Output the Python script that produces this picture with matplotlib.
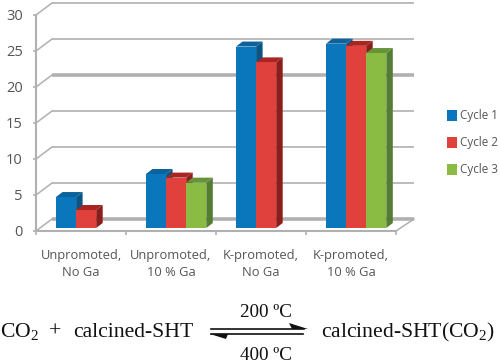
import numpy as np
import matplotlib
matplotlib.use("Agg")
import matplotlib.pyplot as plt
from matplotlib.patches import Polygon, Patch

plt.rcParams['font.family'] = ['Open Sans', 'DejaVu Sans']
plt.rcParams['mathtext.fontset'] = 'custom'
plt.rcParams['mathtext.rm'] = 'Liberation Serif'

categories = ['Unpromoted,\nNo Ga', 'Unpromoted,\n10 % Ga', 'K-promoted,\nNo Ga', 'K-promoted,\n10 % Ga']
cycle_names = ['Cycle 1', 'Cycle 2', 'Cycle 3']
cycle_1 = [4.3, 7.5, 25.2, 25.6]
cycle_2 = [2.5, 7.0, 23.0, 25.3]
cycle_3 = [np.nan, 6.3, np.nan, 24.3]
y_ticks = [0, 5, 10, 15, 20, 25, 30]

front_colors = ['#0A77BD', '#E0413D', '#8ABB42']
side_colors = ['#0A5585', '#8C1D1B', '#537D32']
top_colors = ['#0B629C', '#A82522', '#679438']
grid_color = '#B0B0B0'
text_color = '#555555'

W, H = 500, 364
fig = plt.figure(figsize=(W / 100, H / 100), dpi=100)

# front plane of the fake 3D chart, in pixels
left, right, y0, y30 = 36, 396, 231, 15
ax = fig.add_axes([left / W, 1 - y0 / H, (right - left) / W, (y0 - y30) / H])
ax.set_xlim(0, 4)
ax.set_ylim(0, 30)
px_x = 4 / (right - left)
px_y = 30 / (y0 - y30)

# back wall and floor
wall_dx, wall_dy = 16 * px_x, 12 * px_y
for v in y_ticks:
    lw = 2.6 if v in (0, 20) else 1.2
    ax.plot([0, wall_dx], [v, v + wall_dy], color=grid_color, lw=1.1, clip_on=False, zorder=1)
    ax.plot([wall_dx, 4 + 18 * px_x], [v + wall_dy, v + wall_dy],
            color=grid_color, lw=lw, clip_on=False, zorder=1, solid_capstyle='butt')
ax.plot([4, 4 + 18 * px_x], [0, wall_dy], color=grid_color, lw=1.1, clip_on=False, zorder=1)

for s in ['top', 'right']:
    ax.spines[s].set_visible(False)
for s in ['left', 'bottom']:
    ax.spines[s].set_color(grid_color)
    ax.spines[s].set_linewidth(1.5)

ax.set_yticks(y_ticks)
ax.set_xticks(range(5))
ax.set_xticklabels([])
ax.set_xticks(np.arange(4) + 0.5, categories, minor=True)
ax.tick_params(axis='x', which='major', length=3, width=1.2, color=grid_color)
ax.tick_params(axis='x', which='minor', length=0, pad=13, labelsize=9.3, labelcolor=text_color)
ax.tick_params(axis='y', length=2, width=1.2, color=grid_color, labelsize=10.5, labelcolor=text_color, pad=7.5)
for t in ax.get_xticklabels(minor=True):
    t.set_linespacing(1.4)

# bars, with top and side faces added by hand
bar_w = 20.1 * px_x
floor = 3 * px_y
depth_x, depth_y = 6.5 * px_x, 5 * px_y
series = [cycle_1, cycle_2, cycle_3]
for i in range(len(categories)):
    start = i + 0.5 - 25 * px_x
    for j, vals in enumerate(series):
        v = vals[i]
        if np.isnan(v):
            continue
        x = start + j * bar_w
        top = v + floor
        z = 3 + j
        ax.add_patch(Polygon([(x + bar_w, floor), (x + bar_w + depth_x, floor + depth_y),
                              (x + bar_w + depth_x, top + depth_y), (x + bar_w, top)],
                             closed=True, fc=side_colors[j], ec='none', zorder=z, clip_on=False))
        ax.add_patch(Polygon([(x, top), (x + depth_x, top + depth_y),
                              (x + bar_w + depth_x, top + depth_y), (x + bar_w, top)],
                             closed=True, fc=top_colors[j], ec='none', zorder=z, clip_on=False))
        ax.bar(x, v, bar_w, bottom=floor, align='edge', color=front_colors[j], zorder=z + 0.5)

handles = [Patch(fc=c, ec='none', label=n) for c, n in zip(front_colors, cycle_names)]
fig.legend(handles=handles, loc='center left', bbox_to_anchor=(447 / W, 1 - 143 / H), frameon=False,
           fontsize=8.4, labelcolor=text_color, handlelength=0.85, handleheight=0.95,
           handletextpad=0.3, labelspacing=1.2, borderpad=0, borderaxespad=0)

# reaction scheme underneath, in pixel coordinates
eq = fig.add_axes([0, 0, 1, 1])
eq.set_xlim(0, W)
eq.set_ylim(H, 0)
eq.axis('off')
eq.patch.set_alpha(0)
serif = dict(family='Liberation Serif', fontsize=15.6, color='#111111', va='baseline')
eq.text(0, 337, r'$\mathrm{CO_2}$', ha='left', **serif)
eq.text(49, 337, '+', ha='left', **serif)
eq.text(73, 337, 'calcined-SHT', ha='left', **serif)
eq.text(321, 337, r'calcined-SHT(CO$_2$)', ha='left', **serif)
eq.text(266, 317, '200 ºC', ha='center', **{**serif, 'fontsize': 13.8})
eq.text(266, 360, '400 ºC', ha='center', **{**serif, 'fontsize': 13.8})
eq.plot([211, 304], [329, 329], color='#111111', lw=1.2)
eq.plot([211, 303], [334, 334], color='#111111', lw=1.2)
eq.add_patch(Polygon([(289, 323), (308, 329), (292, 329)], closed=True, fc='#111111', ec='none'))
eq.add_patch(Polygon([(210, 334), (228, 334), (226, 339)], closed=True, fc='#111111', ec='none'))

fig.savefig('out.png', dpi=100)
